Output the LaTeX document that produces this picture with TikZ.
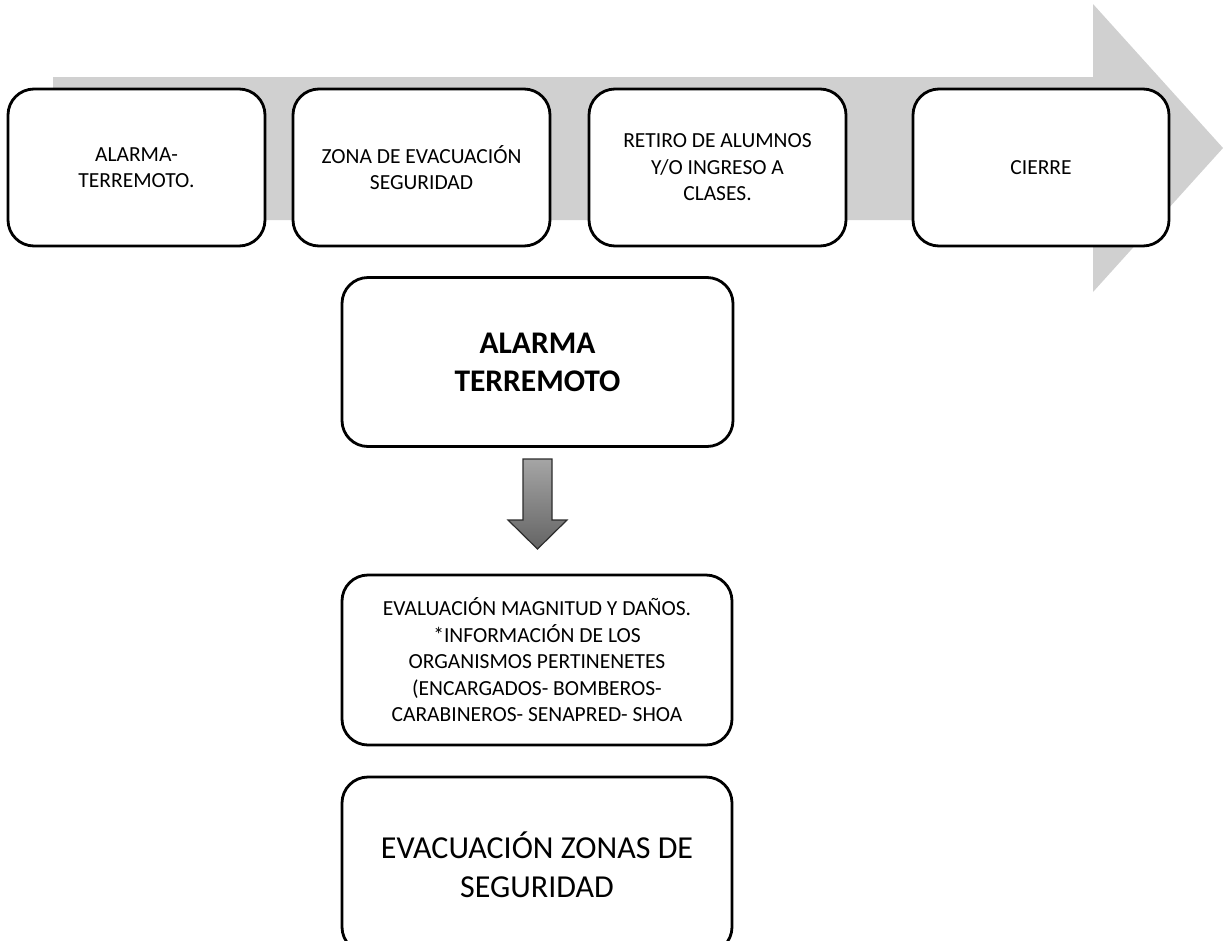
\documentclass[tikz,border=0pt]{standalone}
\usepackage{fontspec}
\setmainfont{Carlito}
\definecolor{bandgray}{RGB}{208,208,208}
\definecolor{arrowtop}{RGB}{165,165,165}
\definecolor{arrowbot}{RGB}{100,100,100}
\definecolor{arrowline}{RGB}{45,45,45}
\tikzset{
  stepbox/.style={draw=black, fill=white, line width=2.8pt, rounded corners=26pt,
    align=center, inner sep=0pt},
  small/.style={font=\fontsize{21.5}{26.5}\selectfont},
  big/.style={font=\fontsize{32}{39}\selectfont},
  bigbold/.style={font=\fontsize{31.5}{38}\selectfont\bfseries},
}
\begin{document}
\begin{tikzpicture}[x=1pt,y=-1pt]
\useasboundingbox (0,0) rectangle (1223,940);
\clip (0,0) rectangle (1223,940);
% big grey process arrow
\fill[bandgray] (53,77) -- (1093,77) -- (1093,4) -- (1223,148) -- (1093,292) -- (1093,220) -- (53,220) -- cycle;
% top row
\node[stepbox, small, minimum width=257pt, minimum height=157pt] (b1) at (136.5,167.5) {ALARMA-\\TERREMOTO.};
\node[stepbox, small, minimum width=257pt, minimum height=157pt] (b2) at (421.5,167.5) {ZONA DE EVACUACIÓN\\SEGURIDAD};
\node[stepbox, small, minimum width=257pt, minimum height=157pt] (b3) at (717.5,167.5) {RETIRO DE ALUMNOS\\Y/O INGRESO A\\CLASES.};
\node[stepbox, small, minimum width=256pt, minimum height=157pt] (b4) at (1041,167.5) {CIERRE};
% vertical sequence
\node[stepbox, bigbold, minimum width=391pt, minimum height=169pt] (alarm) at (537.5,362) {ALARMA\\TERREMOTO};
\node[stepbox, small, minimum width=390pt, minimum height=170pt] (eval) at (537,660) {EVALUACIÓN MAGNITUD Y DAÑOS.\\*INFORMACIÓN DE LOS\\ORGANISMOS PERTINENETES\\(ENCARGADOS- BOMBEROS-\\CARABINEROS- SENAPRED- SHOA};
\node[stepbox, big, minimum width=390pt, minimum height=176pt] (evac) at (537,865) {EVACUACIÓN ZONAS DE\\SEGURIDAD};
% down arrow between alarm and eval
\shade[top color=arrowtop, bottom color=arrowbot, draw=arrowline, line width=1.2pt]
  (523,459) -- (552,459) -- (552,520) -- (567,520) -- (537.5,549) -- (508,520) -- (523,520) -- cycle;
\end{tikzpicture}
\end{document}
